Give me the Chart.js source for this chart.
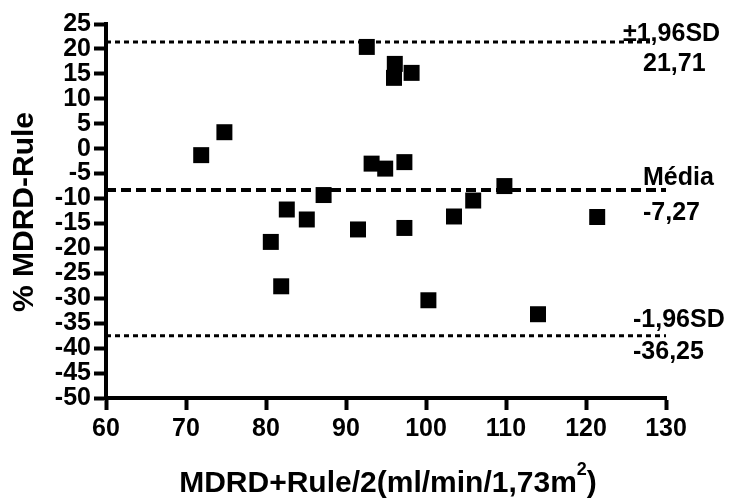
<!DOCTYPE html>
<html lang="pt">
  <head>
    <meta charset="UTF-8" />
    <title>Bland-Altman MDRD-Rule</title>
    <script src="https://cdn.jsdelivr.net/npm/chart.js"></script>
    <style>
      body { margin: 0; background: #fff; }
      .chart-container { width: 734px; height: 500px; }
    </style>
  </head>
  <body>
    <div class="chart-container">
      <canvas id="blandChart"></canvas>
    </div>

    <script>
      // mean of MDRD and Rule (x) vs % difference (y)
      const xValues = [71.9, 74.8, 92.6, 96.1, 96.0, 98.2, 93.2, 94.9, 97.3, 109.8, 105.9,
        103.5, 121.4, 97.3, 91.5, 87.2, 82.6, 85.1, 80.6, 81.9, 100.3, 114.0];
      const yValues = [-1.3, 3.3, 20.4, 17.0, 14.2, 15.2, -3.0, -4.0, -2.7, -7.5, -10.4,
        -13.6, -13.7, -15.9, -16.2, -9.3, -12.2, -14.2, -18.7, -27.6, -30.4, -33.2];

      // reference lines: +1,96SD / mean / -1,96SD (drawn positions)
      const limitNames = ["+1,96SD", "Média", "-1,96SD"];
      const limitValues = [21.4, -8.3, -37.5];
      const limitLabels = ["±1,96SD\n21,71", "Média\n-7,27", "-1,96SD\n-36,25"];
      const limitEnds = [128, 130, 130];

      const xMin = 60, xMax = 130, xStep = 10;
      const yMin = -50, yMax = 25, yStep = 5;

      const FONT = "'Liberation Sans', Arial, sans-serif";

      const points = xValues.map((x, i) => ({ x: x, y: yValues[i] }));

      const limitSets = limitValues.map((v, i) => ({
        type: "line",
        label: limitNames[i],
        data: [{ x: xMin, y: v }, { x: limitEnds[i], y: v }],
        borderColor: "#000",
        borderWidth: i === 1 ? 4 : 3,
        borderDash: i === 1 ? [10, 5] : [5, 4],
        pointRadius: 0,
        fill: false,
        order: 2,
      }));

      const labelOffsets = [
        { dx: -43, up: -8, down: 22 },
        { dx: -23, up: -12, down: 23 },
        { dx: -33, up: -16, down: 16 },
      ];

      const annotate = {
        id: "annotate",
        afterDraw(chart) {
          const ctx = chart.ctx;
          const area = chart.chartArea;
          const ys = chart.scales.y;
          ctx.save();
          ctx.fillStyle = "#000";

          // line labels on the right
          ctx.font = "bold 25px " + FONT;
          ctx.textAlign = "left";
          ctx.textBaseline = "middle";
          limitValues.forEach((v, i) => {
            const py = ys.getPixelForValue(v);
            const parts = limitLabels[i].split("\n");
            const o = labelOffsets[i];
            ctx.fillText(parts[0], area.right + o.dx, py + o.up);
            ctx.fillText(parts[1], area.right + o.dx + (i === 0 ? 20 : 0), py + o.down);
          });

          // y axis title
          ctx.save();
          ctx.font = "bold 30px " + FONT;
          ctx.textAlign = "center";
          ctx.textBaseline = "alphabetic";
          ctx.translate(33, (area.top + area.bottom) / 2 + 1);
          ctx.rotate(-Math.PI / 2);
          ctx.fillText("% MDRD-Rule", 0, 0);
          ctx.restore();

          // x axis title with superscript
          const main = "MDRD+Rule/2(ml/min/1,73m";
          ctx.textAlign = "left";
          ctx.textBaseline = "alphabetic";
          ctx.font = "bold 30px " + FONT;
          const w1 = ctx.measureText(main).width;
          const w3 = ctx.measureText(")").width;
          ctx.font = "bold 18px " + FONT;
          const w2 = ctx.measureText("2").width;
          const total = w1 + w2 + w3;
          let x = (area.left + area.right) / 2 + 2 - total / 2;
          const base = 492;
          ctx.font = "bold 30px " + FONT;
          ctx.fillText(main, x, base);
          x += w1;
          ctx.font = "bold 18px " + FONT;
          ctx.fillText("2", x, base - 17);
          x += w2;
          ctx.font = "bold 30px " + FONT;
          ctx.fillText(")", x, base);
          ctx.restore();
        },
      };

      const tickFont = { family: FONT, size: 25, weight: "bold", lineHeight: 1 };

      new Chart(document.getElementById("blandChart"), {
        type: "scatter",
        data: {
          datasets: [
            {
              label: "% MDRD-Rule",
              data: points,
              pointStyle: "rect",
              pointRadius: 11.3,
              pointHoverRadius: 11.3,
              backgroundColor: "#000",
              borderColor: "#000",
              borderWidth: 0,
              order: 1,
            },
            ...limitSets,
          ],
        },
        options: {
          responsive: true,
          maintainAspectRatio: false,
          animation: false,
          layout: { padding: { top: 24, right: 68, left: 0, bottom: 0 } },
          plugins: {
            legend: { display: false },
            tooltip: { enabled: false },
          },
          scales: {
            x: {
              type: "linear",
              min: xMin,
              max: xMax,
              afterFit: (s) => { s.height = 102; },
              ticks: { stepSize: xStep, autoSkip: false, color: "#000", font: tickFont, padding: 7, maxRotation: 0 },
              grid: { drawOnChartArea: false, drawTicks: true, tickLength: 12, tickWidth: 4, tickColor: "#000" },
              border: { display: true, width: 4, color: "#000" },
            },
            y: {
              type: "linear",
              min: yMin,
              max: yMax,
              afterFit: (s) => { s.width = 106; },
              ticks: { stepSize: yStep, autoSkip: false, color: "#000", font: tickFont, padding: 3 },
              grid: { drawOnChartArea: false, drawTicks: true, tickLength: 12, tickWidth: 4, tickColor: "#000" },
              border: { display: true, width: 4, color: "#000" },
            },
          },
        },
        plugins: [annotate],
      });
    </script>
  </body>
</html>
